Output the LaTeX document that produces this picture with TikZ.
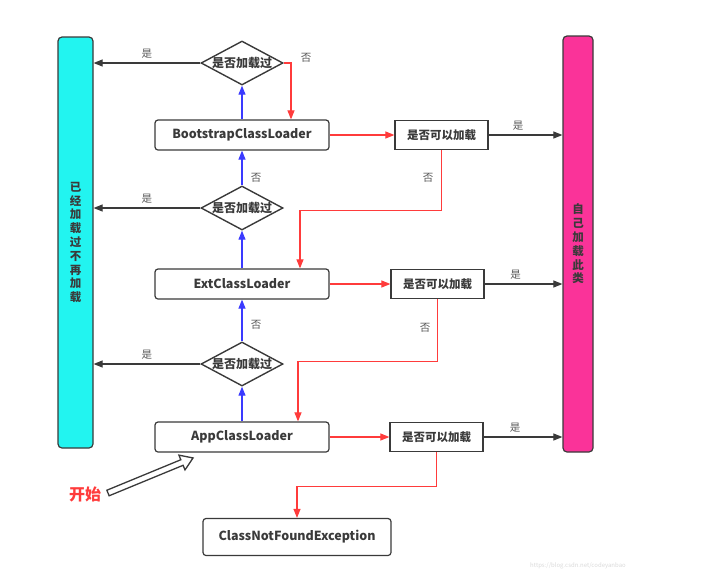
\documentclass[tikz,border=0pt]{standalone}
\usepackage{fontspec}
\setmainfont{Noto Sans CJK SC}
\usetikzlibrary{shapes.geometric,arrows.meta}
\definecolor{barcyan}{HTML}{22F4F0}
\definecolor{barpink}{HTML}{FA3399}
\definecolor{lnred}{HTML}{FF3B3B}
\definecolor{lnblue}{HTML}{3A3AFF}
\definecolor{lngray}{HTML}{3A3A3A}
\tikzset{
  loader/.style={draw=lngray, line width=1.2pt, rounded corners=3pt, fill=white,
    minimum width=174pt, minimum height=30pt, text=lngray,
    font=\fontsize{12.5}{14}\selectfont\bfseries},
  askbox/.style={draw=lngray, line width=1.2pt, fill=white, inner sep=0pt,
    minimum width=93pt, minimum height=29pt, text=lngray,
    font=\fontsize{11.5}{13}\selectfont\bfseries},
  check/.style={diamond, draw=lngray, line width=1.4pt, aspect=1.86, inner sep=0pt,
    minimum width=82pt, minimum height=44pt, text=lngray,
    font=\fontsize{12}{13}\selectfont\bfseries},
  bar/.style={draw=lngray, line width=1.2pt, rounded corners=4pt, text=lngray,
    align=center, font=\fontsize{11.5}{13.8}\selectfont\bfseries},
  lbl/.style={text=lngray!85, font=\fontsize{10.5}{12}\selectfont},
  redline/.style={draw=lnred, line width=1.1pt, -{Triangle[length=9pt,width=7pt]}},
  blueline/.style={draw=lnblue, line width=1.1pt, -{Triangle[length=9pt,width=7pt]}},
  grayline/.style={draw=lngray, line width=1.1pt, -{Triangle[length=9pt,width=7pt]}},
  hollow/.style={draw=lngray, line width=1.3pt, fill=white, line join=miter}
}
\begin{document}
\begin{tikzpicture}[x=1pt,y=-1pt]
  \useasboundingbox (0,0) rectangle (710,574);

  %two side bars
  \node[bar, fill=barcyan, minimum width=35pt, minimum height=411pt] (done) at (75.5,242.5)
    {已\\经\\加\\载\\过\\不\\再\\加\\载};
  \node[bar, fill=barpink, minimum width=30pt, minimum height=416pt] (own) at (578,244)
    {自\\己\\加\\载\\此\\类};

  %loaders
  \node[loader] (boot) at (242,135) {BootstrapClassLoader};
  \node[loader] (ext) at (242,284) {ExtClassLoader};
  \node[loader] (app) at (242,437) {AppClassLoader};
  \node[loader, minimum width=188pt, minimum height=37pt] (cnfe) at (297,537) {ClassNotFoundException};

  %already loaded?
  \node[check] (chk1) at (242,63) {是否加载过};
  \node[check] (chk2) at (242,208) {是否加载过};
  \node[check] (chk3) at (242,364) {是否加载过};

  %can load?
  \node[askbox] (ask1) at (441.5,135) {是否可以加载};
  \node[askbox] (ask2) at (437.5,284) {是否可以加载};
  \node[askbox] (ask3) at (436.5,437) {是否可以加载};

  %delegation upwards
  \draw[blueline] (app.north) -- (chk3.south);
  \draw[blueline] (chk3.north) -- (ext.south);
  \draw[blueline] (ext.north) -- (chk2.south);
  \draw[blueline] (chk2.north) -- (boot.south);
  \draw[blueline] (boot.north) -- (chk1.south);
  \node[lbl] at (256,178) {否};
  \node[lbl] at (256,325) {否};

  %already loaded -> left bar
  \draw[grayline] (chk1.west) -- (chk1.west -| done.east) node[lbl, pos=0.5, above=1pt] {是};
  \draw[grayline] (chk2.west) -- (chk2.west -| done.east) node[lbl, pos=0.5, above=1pt] {是};
  \draw[grayline] (chk3.west) -- (chk3.west -| done.east) node[lbl, pos=0.5, above=1pt] {是};

  %try loading
  \draw[redline] (chk1.east) -| ([xshift=49pt]boot.north);
  \node[lbl] at (306,58) {否};
  \draw[redline] (boot.east) -- (ask1.west);
  \draw[redline] (ext.east) -- (ask2.west);
  \draw[redline] (app.east) -- (ask3.west);

  %can load -> right bar
  \draw[grayline] (ask1.east) -- (ask1.east -| own.west) node[lbl, pos=0.4, above=1pt] {是};
  \draw[grayline] (ask2.east) -- (ask2.east -| own.west) node[lbl, pos=0.4, above=1pt] {是};
  \draw[grayline] (ask3.east) -- (ask3.east -| own.west) node[lbl, pos=0.4, above=1pt] {是};

  %cannot load -> go down
  \draw[redline] (ask1.south) -- ++(0,60) -| ([xshift=58pt]ext.north);
  \draw[redline] (ask2.south) -- ++(0,62) -| ([xshift=56pt]app.north);
  \draw[redline] (ask3.south) -- ++(0,34) -| (cnfe.north);
  \node[lbl] at (428,178) {否};
  \node[lbl] at (425,328) {否};

  %start
  \node[text=lnred, font=\fontsize{16}{18}\selectfont\bfseries] (start) at (85,494) {开始};
  \coordinate (tail) at (108,493);
  \begin{scope}[shift={(tail)}, rotate=22.4]
    \draw[hollow] (0,3) -- (80,3) -- (80,8) -- (92,0) -- (80,-8) -- (80,-3) -- (0,-3) -- cycle;
  \end{scope}

  \node[text=gray!30, font=\fontsize{6}{7}\selectfont] (mark) at (578,566) {https://blog.csdn.net/codeyanbao};
\end{tikzpicture}
\end{document}
